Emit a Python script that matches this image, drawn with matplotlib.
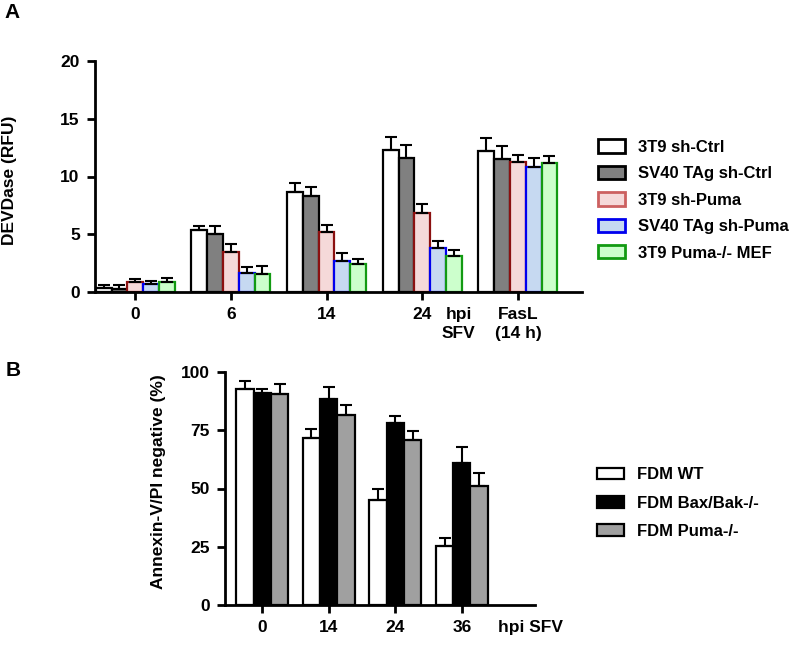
import matplotlib
matplotlib.use("Agg")
import matplotlib.pyplot as plt
from matplotlib.patches import Patch
import numpy as np

plt.rcParams['font.family'] = ['Liberation Sans', 'DejaVu Sans']
plt.rcParams['font.weight'] = 'bold'

# ---------------- Panel A data ----------------
groups_a = ['0', '6', '14', '24', 'FasL\n(14 h)']
series_a = ['3T9 sh-Ctrl', 'SV40 TAg sh-Ctrl', '3T9 sh-Puma', 'SV40 TAg sh-Puma', '3T9 Puma-/- MEF']
ctrl_3t9 = [0.35, 5.4, 8.7, 12.3, 12.2]
ctrl_3t9_err = [0.23, 0.3, 0.75, 1.1, 1.1]
ctrl_sv40 = [0.3, 5.0, 8.35, 11.6, 11.5]
ctrl_sv40_err = [0.28, 0.7, 0.75, 1.1, 1.1]
puma_3t9 = [0.85, 3.5, 5.2, 6.8, 11.25]
puma_3t9_err = [0.28, 0.65, 0.6, 0.8, 0.65]
puma_sv40 = [0.65, 1.65, 2.7, 3.8, 10.8]
puma_sv40_err = [0.28, 0.5, 0.65, 0.6, 0.8]
puma_ko = [0.9, 1.6, 2.4, 3.1, 11.2]
puma_ko_err = [0.32, 0.62, 0.5, 0.5, 0.6]

fills_a = ['#ffffff', '#808080', '#f5d9d9', '#c6d9f1', '#ccffcc']
edges_a = ['#000000', '#000000', '#8b1010', '#0000ee', '#129a12']
legend_edges_a = ['#000000', '#000000', '#cc6060', '#0000ee', '#129a12']

# ---------------- Panel B data ----------------
groups_b = ['0', '14', '24', '36']
series_b = ['FDM WT', 'FDM Bax/Bak-/-', 'FDM Puma-/-']
wt = [92.5, 71.5, 45.0, 25.3]
wt_err = [3.8, 3.9, 5.0, 3.6]
baxbak = [91.0, 88.5, 78.0, 61.0]
baxbak_err = [1.8, 5.0, 3.0, 6.6]
puma_b = [90.5, 81.5, 71.0, 51.0]
puma_b_err = [4.3, 4.5, 3.5, 5.6]

fills_b = ['#ffffff', '#000000', '#a0a0a0']

W, H = 796, 652
fig = plt.figure(figsize=(W / 100, H / 100), dpi=100)

def style_axes(ax, lw=2.0):
    for s in ['top', 'right']:
        ax.spines[s].set_visible(False)
    for s in ['left', 'bottom']:
        ax.spines[s].set_linewidth(lw)
    ax.tick_params(axis='both', width=lw, length=6, direction='out', pad=5)

# ---------------- Panel A ----------------
axA = fig.add_axes([95 / W, 1 - 292 / H, (582 - 95) / W, (292 - 61) / H])
vals_a = [ctrl_3t9, ctrl_sv40, puma_3t9, puma_sv40, puma_ko]
errs_a = [ctrl_3t9_err, ctrl_sv40_err, puma_3t9_err, puma_sv40_err, puma_ko_err]
xa = np.arange(len(groups_a))
bw = 0.165
for i, (v, e) in enumerate(zip(vals_a, errs_a)):
    xs = xa + (i - 2) * bw
    axA.bar(xs, v, width=bw, color=fills_a[i], edgecolor=edges_a[i], linewidth=1.6, zorder=2)
    axA.errorbar(xs, v, yerr=[np.zeros(len(v)), e], fmt='none', ecolor='black',
                 elinewidth=1.5, capsize=4, capthick=1.5, zorder=3)
axA.set_xlim(-0.42, 4.67)
axA.set_ylim(0, 20)
axA.set_yticks([0, 5, 10, 15, 20])
axA.set_xticks(xa)
axA.set_xticklabels(groups_a, fontsize=12.5, fontweight='bold', linespacing=1.3)
axA.tick_params(axis='y', labelsize=12.5)
for lab in axA.get_yticklabels():
    lab.set_fontweight('bold')
style_axes(axA)
axA.set_ylabel('DEVDase (RFU)', fontsize=12.5, fontweight='bold')
axA.yaxis.set_label_coords(-0.16, 0.485)
axA.annotate('hpi\nSFV', xy=(3.38, 0), xycoords=('data', 'axes fraction'),
             xytext=(0, -11), textcoords='offset points', ha='center', va='top',
             fontsize=12.5, fontweight='bold', linespacing=1.3)

handles_a = [Patch(facecolor=fills_a[i], edgecolor=legend_edges_a[i], linewidth=2)
             for i in range(len(series_a))]
fig.legend(handles_a, series_a, loc='center left', bbox_to_anchor=(598 / W, 1 - 200 / H),
           frameon=False, handlelength=1.6, handleheight=0.85,
           handletextpad=0.8, labelspacing=0.66, borderpad=0, borderaxespad=0,
           prop={'weight': 'bold', 'size': 12})

# ---------------- Panel B ----------------
axB = fig.add_axes([225 / W, 1 - 605 / H, (535 - 225) / W, (605 - 372) / H])
vals_b = [wt, baxbak, puma_b]
errs_b = [wt_err, baxbak_err, puma_b_err]
xb = np.arange(len(groups_b))
bwb = 0.26
for i, (v, e) in enumerate(zip(vals_b, errs_b)):
    xs = xb + (i - 1) * bwb
    axB.bar(xs, v, width=bwb, color=fills_b[i], edgecolor='black', linewidth=1.6, zorder=2)
    axB.errorbar(xs, v, yerr=[np.zeros(len(v)), e], fmt='none', ecolor='black',
                 elinewidth=1.5, capsize=4, capthick=1.5, zorder=3)
axB.set_xlim(-0.56, 4.1)
axB.set_ylim(0, 100)
axB.set_yticks([0, 25, 50, 75, 100])
axB.set_xticks(xb)
axB.set_xticklabels(groups_b, fontsize=12.5, fontweight='bold')
axB.tick_params(axis='y', labelsize=12.5)
for lab in axB.get_yticklabels():
    lab.set_fontweight('bold')
style_axes(axB)
axB.set_ylabel('Annexin-V/PI negative (%)', fontsize=12.5, fontweight='bold')
axB.yaxis.set_label_coords(-0.19, 0.53)
axB.annotate('hpi SFV', xy=(4.03, 0), xycoords=('data', 'axes fraction'),
             xytext=(0, -11), textcoords='offset points', ha='center', va='top',
             fontsize=12.5, fontweight='bold')

handles_b = [Patch(facecolor=fills_b[i], edgecolor='black', linewidth=1.6)
             for i in range(len(series_b))]
fig.legend(handles_b, series_b, loc='center left', bbox_to_anchor=(597 / W, 1 - 503 / H),
           frameon=False, handlelength=1.6, handleheight=0.7,
           handletextpad=0.8, labelspacing=0.8, borderpad=0, borderaxespad=0,
           prop={'weight': 'bold', 'size': 12})

# panel letters
fig.text(12 / W, 1 - 12 / H, 'A', fontsize=15, fontweight='bold', ha='center', va='center')
fig.text(13 / W, 1 - 370 / H, 'B', fontsize=15, fontweight='bold', ha='center', va='center')

fig.savefig('out.png', dpi=100)
